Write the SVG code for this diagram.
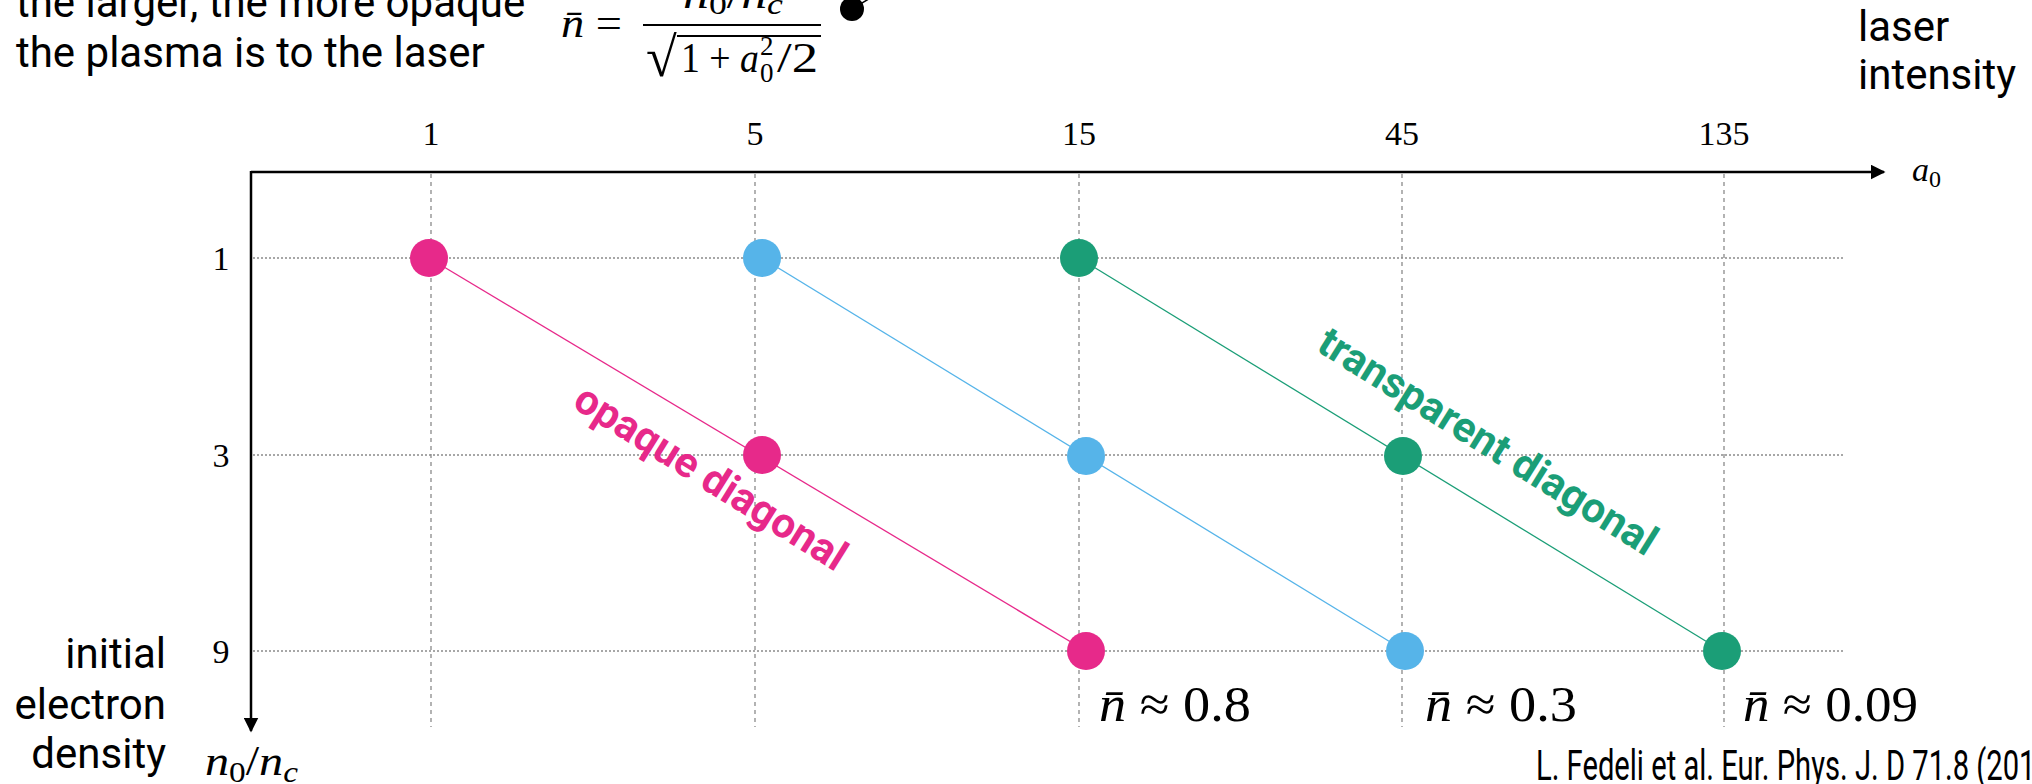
<svg xmlns="http://www.w3.org/2000/svg" width="2032" height="784" viewBox="0 0 2032 784">
<style>
.sans{font-family:Roboto,"Liberation Sans",sans-serif;font-size:42px;fill:#000}
.math{font-family:"Liberation Serif","DejaVu Serif",serif;fill:#000}
.it{font-style:italic}
.grid-h{stroke:#8a8a8a;stroke-width:1.3;stroke-dasharray:2 2;fill:none}
.grid-v{stroke:#8a8a8a;stroke-width:1.3;stroke-dasharray:4 4;fill:none}
.axis{stroke:#000;stroke-width:2.5;fill:none}
.tick{font-size:34px;text-anchor:middle}
.diag{font-family:Roboto,"Liberation Sans",sans-serif;font-weight:bold;font-size:42px}
.pink{fill:#E7298A}
.blue{fill:#56B4E9}
.green{fill:#1B9E77}
</style>
<defs>
<marker id="arr" viewBox="0 0 10 10" refX="9" refY="5" markerWidth="6" markerHeight="6" orient="auto" markerUnits="strokeWidth">
<path d="M0,0 L10,5 L0,10 z" fill="#000"/>
</marker>
</defs>

<!-- grid -->
<g id="grid">
<line class="grid-h" x1="253" y1="258" x2="1844" y2="258"/>
<line class="grid-h" x1="253" y1="455" x2="1844" y2="455"/>
<line class="grid-h" x1="253" y1="651" x2="1844" y2="651"/>
<line class="grid-v" x1="431" y1="174" x2="431" y2="727"/>
<line class="grid-v" x1="755" y1="174" x2="755" y2="727"/>
<line class="grid-v" x1="1079" y1="174" x2="1079" y2="727"/>
<line class="grid-v" x1="1402" y1="174" x2="1402" y2="727"/>
<line class="grid-v" x1="1724" y1="174" x2="1724" y2="727"/>
</g>

<!-- axes -->
<g id="axes">
<line class="axis" x1="251" y1="172" x2="1884" y2="172" marker-end="url(#arr)"/>
<line class="axis" x1="251" y1="171" x2="251" y2="731" marker-end="url(#arr)"/>
<g class="math tick">
<text x="431" y="145">1</text>
<text x="755" y="145">5</text>
<text x="1079" y="145">15</text>
<text x="1402" y="145">45</text>
<text x="1724" y="145">135</text>
<text x="221" y="270">1</text>
<text x="221" y="467">3</text>
<text x="221" y="663">9</text>
</g>
<text class="math" x="1912" y="181" font-size="34"><tspan class="it">a</tspan><tspan font-size="24" dy="6">0</tspan></text>
<text class="math" x="205" y="775" font-size="42" textLength="93" lengthAdjust="spacingAndGlyphs"><tspan class="it">n</tspan><tspan font-size="29" dy="7">0</tspan><tspan dy="-7">/</tspan><tspan class="it">n</tspan><tspan class="it" font-size="29" dy="7">c</tspan></text>
</g>

<!-- connectors -->
<g id="connectors" stroke-width="1.3" fill="none">
<line x1="429" y1="258" x2="1086" y2="651" stroke="#E7298A"/>
<line x1="762" y1="258" x2="1405" y2="651" stroke="#56B4E9"/>
<line x1="1079" y1="258" x2="1722" y2="651" stroke="#1B9E77"/>
<line x1="852" y1="9" x2="872" y2="-3" stroke="#000" stroke-width="1.5"/>
</g>

<!-- nodes -->
<g id="node-p1"><circle class="pink" cx="429" cy="258" r="19"/></g>
<g id="node-p3"><circle class="pink" cx="762" cy="455" r="19"/></g>
<g id="node-p9"><circle class="pink" cx="1086" cy="651" r="19"/></g>
<g id="node-b1"><circle class="blue" cx="762" cy="258" r="19"/></g>
<g id="node-b3"><circle class="blue" cx="1086" cy="456" r="19"/></g>
<g id="node-b9"><circle class="blue" cx="1405" cy="651" r="19"/></g>
<g id="node-g1"><circle class="green" cx="1079" cy="258" r="19"/></g>
<g id="node-g3"><circle class="green" cx="1403" cy="456" r="19"/></g>
<g id="node-g9"><circle class="green" cx="1722" cy="651" r="19"/></g>
<g id="node-dot"><circle cx="852" cy="9" r="12" fill="#000"/></g>

<!-- diagonal labels -->
<text class="diag pink" x="711" y="477" text-anchor="middle" dominant-baseline="central" transform="rotate(32 711 477)">opaque diagonal</text>
<text class="diag green" x="1488" y="441" text-anchor="middle" dominant-baseline="central" transform="rotate(32 1488 441)">transparent diagonal</text>

<!-- n bar values -->
<g class="math" font-size="50">
<text x="1099" y="721" textLength="152" lengthAdjust="spacingAndGlyphs"><tspan class="it">n&#x0304;</tspan> ≈ 0.8</text>
<text x="1425" y="721" textLength="152" lengthAdjust="spacingAndGlyphs"><tspan class="it">n&#x0304;</tspan> ≈ 0.3</text>
<text x="1743" y="721" textLength="175" lengthAdjust="spacingAndGlyphs"><tspan class="it">n&#x0304;</tspan> ≈ 0.09</text>
</g>

<!-- formula -->
<g id="formula" class="math" font-size="42">
<text x="561" y="37" textLength="61" lengthAdjust="spacingAndGlyphs"><tspan class="it">n&#x0304;</tspan> =</text>
<line x1="643" y1="25" x2="821" y2="25" stroke="#000" stroke-width="1.8"/>
<text x="733" y="8" text-anchor="middle" textLength="100" lengthAdjust="spacingAndGlyphs"><tspan class="it">n</tspan><tspan font-size="29" dy="6">0</tspan><tspan dy="-6">/</tspan><tspan class="it">n</tspan><tspan class="it" font-size="29" dy="6">c</tspan></text>
<text x="646" y="76" font-size="56">√</text>
<line x1="677" y1="36" x2="821" y2="36" stroke="#000" stroke-width="1.8"/>
<text x="681" y="72" textLength="78" lengthAdjust="spacingAndGlyphs">1 + <tspan class="it">a</tspan></text>
<text x="760" y="55" font-size="27">2</text>
<text x="760" y="82" font-size="27">0</text>
<text x="777" y="72" textLength="41" lengthAdjust="spacingAndGlyphs">/2</text>
</g>

<!-- side texts -->
<text class="sans" x="16" y="17">the larger, the more opaque</text>
<text class="sans" x="16" y="67">the plasma is to the laser</text>
<text class="sans" x="1858" y="41">laser</text>
<text class="sans" x="1858" y="89">intensity</text>
<text class="sans" x="166" y="668" text-anchor="end">initial</text>
<text class="sans" x="166" y="719" text-anchor="end">electron</text>
<text class="sans" x="166" y="768" text-anchor="end">density</text>
<text class="sans" x="1536" y="780" font-size="30" textLength="526" lengthAdjust="spacingAndGlyphs">L. Fedeli et al. Eur. Phys. J. D 71.8 (2017)</text>
</svg>
